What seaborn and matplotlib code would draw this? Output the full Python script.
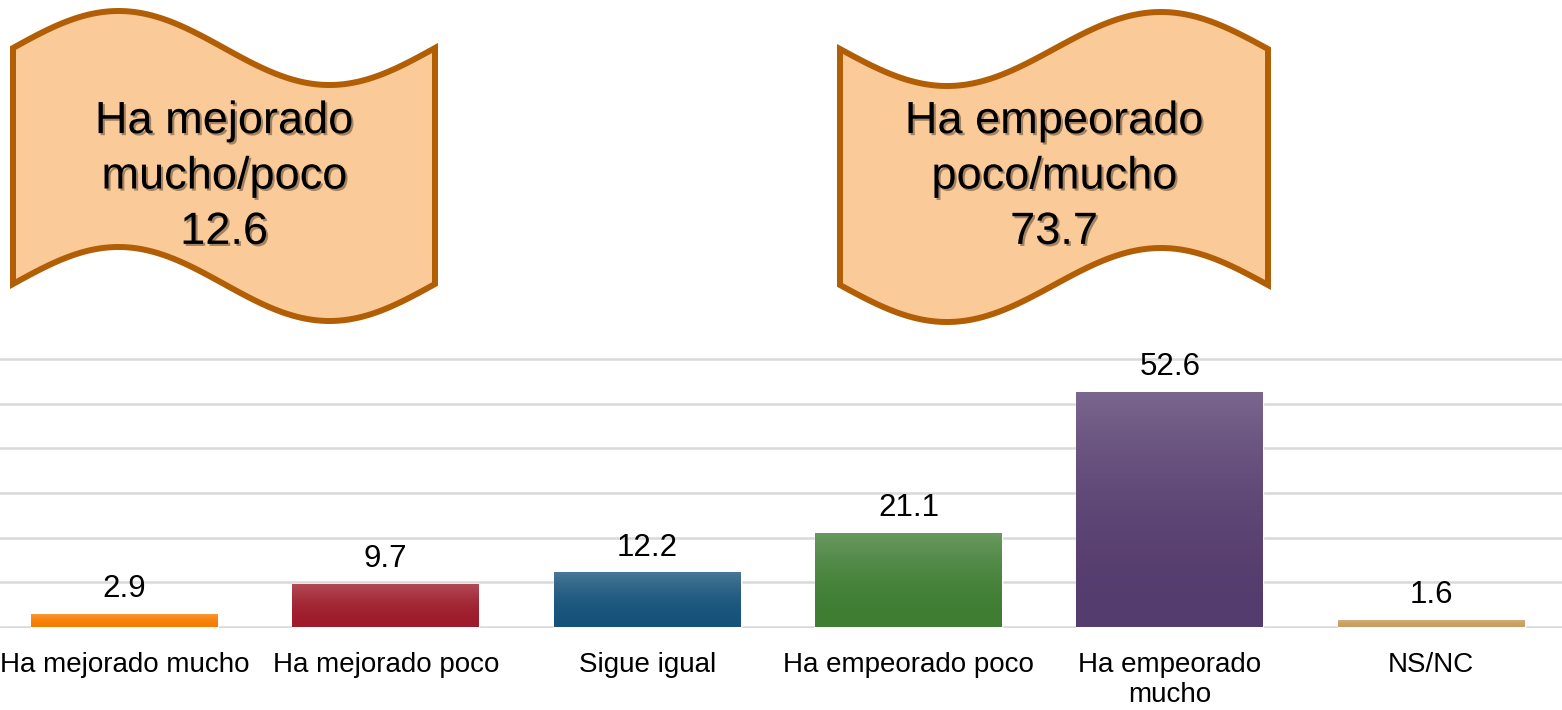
import matplotlib
matplotlib.use("Agg")
import matplotlib.pyplot as plt
import matplotlib.patheffects as pe
from matplotlib.patches import Polygon
from matplotlib.colors import to_rgb
import numpy as np
import pandas as pd
import seaborn as sns

# data
categories = ["Ha mejorado mucho", "Ha mejorado poco", "Sigue igual",
              "Ha empeorado poco", "Ha empeorado\nmucho", "NS/NC"]
values = [2.9, 9.7, 12.2, 21.1, 52.6, 1.6]
bar_colors = ["#F57C00", "#9E1B2A", "#15527A", "#3F7D33", "#553C6E", "#C99E60"]
banner_titles = ["Ha mejorado\nmucho/poco", "Ha empeorado\npoco/mucho"]
banner_totals = [round(values[0] + values[1], 1), round(values[3] + values[4], 1)]

sns.set_style("white")
plt.rcParams["font.family"] = ["Liberation Sans", "DejaVu Sans"]

W, H = 1562, 710
fig = plt.figure(figsize=(W / 100, H / 100), dpi=100)
ax = fig.add_axes([0, 0.1151, 1, 0.3814])

df = pd.DataFrame({"cat": categories, "val": values})
sns.barplot(data=df, x="cat", y="val", hue="cat", palette=bar_colors,
            legend=False, width=0.715, ax=ax, zorder=3)

# vertical gradient on each bar (lighter at the top)
for patch, col in zip(ax.patches, bar_colors):
    base = np.array(to_rgb(col))
    s = np.linspace(0, 1, 256)[:, None]
    blend = 0.22 * (1 - s) ** 2
    grad = base * (1 - blend) + blend
    img = ax.imshow(grad[:, None, :], extent=[patch.get_x(), patch.get_x() + patch.get_width(),
                                               0, patch.get_height()],
                    aspect="auto", origin="upper", zorder=4, interpolation="bilinear")
    img.set_clip_path(patch)

for i, v in enumerate(values):
    ax.annotate(f"{v:.1f}", (i, v), xytext=(0, 12), textcoords="offset points",
                ha="center", va="baseline", fontsize=22.5, color="black", zorder=5)

ax.set_xlim(-0.476, 5.5)
ax.set_ylim(-0.3, 60.3)
ax.set_yticks(np.arange(0, 61, 10))
ax.set_yticklabels([])
ax.yaxis.grid(True, color="#D9D9D9", linewidth=1.8)
ax.set_axisbelow(True)
ax.set_xlabel("")
ax.set_ylabel("")
ax.tick_params(axis="x", length=0, labelsize=20, pad=17, labelcolor="black")
ax.tick_params(axis="y", length=0)
for sp in ax.spines.values():
    sp.set_visible(False)


def banner(x0, x1, ytop, height, amp, sign):
    t = np.linspace(0, 1, 200)
    xs = x0 + (x1 - x0) * t
    top = ytop - sign * amp * np.sin(2 * np.pi * t)
    bot = top + height
    px = np.concatenate([xs, xs[::-1]])
    py = np.concatenate([top, bot[::-1]])
    pts = np.column_stack([px / W, 1 - py / H])
    fig.add_artist(Polygon(pts, closed=True, transform=fig.transFigure,
                           facecolor="#FACA98", edgecolor="#B25E05", linewidth=4.3,
                           joinstyle="miter"))


banner(13, 435, 48, 236, 37, 1)
banner(840, 1268, 49, 236, 37, -1)

shadow = [pe.SimplePatchShadow(offset=(1.5, -1.5), shadow_rgbFace="black", alpha=0.35), pe.Normal()]
for cx, title, tot in zip([224, 1054], banner_titles, banner_totals):
    fig.text(cx / W, 1 - 177 / H, f"{title}\n{tot:.1f}", ha="center", va="center",
             fontsize=32.5, linespacing=1.45, color="black", path_effects=shadow)

fig.savefig("out.png", dpi=100)
